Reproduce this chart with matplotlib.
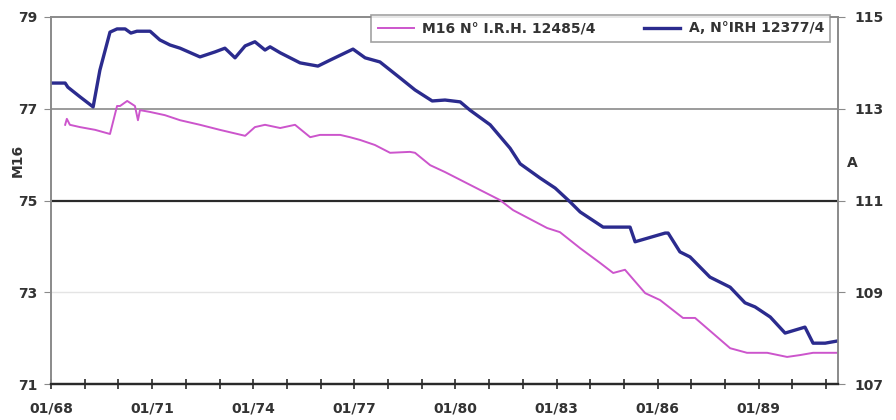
import matplotlib

matplotlib.use("Agg")
import matplotlib.pyplot as plt
from matplotlib.ticker import FixedLocator, MultipleLocator

plt.rcParams["font.family"] = ["DejaVu Sans"]

# --- data (decimal year, level) ---
m16_years = [1968.42, 1968.47, 1968.56, 1968.86, 1969.31, 1969.75, 1969.96, 1970.05,
             1970.26, 1970.49, 1970.58, 1970.64, 1970.94, 1971.38, 1971.83, 1972.42,
             1973.01, 1973.76, 1974.05, 1974.35, 1974.80, 1975.24, 1975.69, 1975.98,
             1976.58, 1976.87, 1977.17, 1977.61, 1978.06, 1978.65, 1978.80, 1979.25,
             1979.69, 1980.73, 1981.32, 1981.71, 1982.72, 1983.10, 1983.70, 1984.29,
             1984.68, 1985.03, 1985.63, 1986.07, 1986.75, 1987.11, 1988.15, 1988.65,
             1989.25, 1989.84, 1990.22, 1990.61, 1991.35]
m16_level = [76.65, 76.78, 76.65, 76.60, 76.54, 76.45, 77.06, 77.06,
             77.17, 77.06, 76.75, 76.97, 76.93, 76.86, 76.75, 76.65,
             76.54, 76.41, 76.60, 76.65, 76.58, 76.65, 76.38, 76.43,
             76.43, 76.38, 76.32, 76.21, 76.04, 76.06, 76.04, 75.77,
             75.62, 75.23, 75.01, 74.79, 74.40, 74.31, 73.96, 73.64,
             73.42, 73.49, 72.98, 72.83, 72.44, 72.44, 71.78, 71.68,
             71.68, 71.59, 71.63, 71.68, 71.68]

a_years = [1968.00, 1968.42, 1968.50, 1968.86, 1969.25, 1969.45, 1969.75, 1969.96,
           1970.20, 1970.37, 1970.55, 1970.94, 1971.23, 1971.53, 1971.83, 1972.42,
           1972.87, 1973.16, 1973.46, 1973.76, 1974.05, 1974.35, 1974.50, 1974.80,
           1975.39, 1975.92, 1976.28, 1976.96, 1977.32, 1977.76, 1978.36, 1978.80,
           1979.31, 1979.69, 1980.14, 1980.43, 1981.03, 1981.62, 1981.92, 1982.51,
           1982.96, 1983.40, 1983.70, 1984.38, 1985.18, 1985.33, 1986.22, 1986.31,
           1986.66, 1986.96, 1987.55, 1988.15, 1988.59, 1988.89, 1989.34, 1989.78,
           1990.37, 1990.61, 1990.97, 1991.35]
a_level = [113.56, 113.56, 113.47, 113.26, 113.04, 113.84, 114.67, 114.74,
           114.74, 114.65, 114.69, 114.69, 114.50, 114.39, 114.32, 114.13,
           114.24, 114.32, 114.11, 114.37, 114.46, 114.28, 114.35, 114.22,
           114.00, 113.93, 114.06, 114.30, 114.11, 114.02, 113.67, 113.41,
           113.17, 113.19, 113.15, 112.97, 112.65, 112.14, 111.80, 111.49,
           111.27, 110.97, 110.75, 110.42, 110.42, 110.10, 110.29, 110.29,
           109.88, 109.77, 109.33, 109.11, 108.77, 108.68, 108.46, 108.11,
           108.24, 107.89, 107.89, 107.94]

x_tick_years = [1968, 1971, 1974, 1977, 1980, 1983, 1986, 1989]
x_tick_labels = ["01/68", "01/71", "01/74", "01/77", "01/80", "01/83", "01/86", "01/89"]
left_ticks = [71, 73, 75, 77, 79]
right_ticks = [107, 109, 111, 113, 115]

TXT = "#333333"
FS = 10

fig = plt.figure(figsize=(8.96, 4.2), dpi=100)
ax1 = fig.add_axes([51 / 896, 36 / 420, 787 / 896, 367 / 420])
ax2 = ax1.twinx()

ax1.set_xlim(1968.0, 1991.35)
ax1.set_ylim(71, 79)
ax2.set_ylim(107, 115)

# horizontal reference lines
ax1.axhline(77, color="#8a8a8a", lw=1.2, zorder=1)
ax1.axhline(75, color="#2a2a2a", lw=1.6, zorder=1)
ax1.axhline(73, color="#e4e4e4", lw=1.0, zorder=1)

l1, = ax1.plot(m16_years, m16_level, color="#cc55cc", lw=1.4, label="M16 N° I.R.H. 12485/4")
l2, = ax2.plot(a_years, a_level, color="#2b2b8e", lw=2.4, label="A, N°IRH 12377/4")

for ax in (ax1, ax2):
    for side in ("left", "right", "top"):
        ax.spines[side].set_color("#8a8a8a")
        ax.spines[side].set_linewidth(1.2)
    ax.spines["bottom"].set_color("#2a2a2a")
    ax.spines["bottom"].set_linewidth(1.6)

ax1.xaxis.set_major_locator(FixedLocator(x_tick_years))
ax1.set_xticklabels(x_tick_labels)
ax1.xaxis.set_minor_locator(MultipleLocator(1))
ax1.tick_params(axis="x", which="both", direction="inout", length=7, width=1.2,
                color="#2a2a2a", labelsize=FS, labelcolor=TXT, pad=9)
ax1.set_yticks(left_ticks)
ax1.tick_params(axis="y", direction="out", length=5, color="#8a8a8a",
                labelsize=FS, labelcolor=TXT, pad=5)
ax2.set_yticks(right_ticks)
ax2.tick_params(axis="y", direction="out", length=5, color="#8a8a8a",
                labelsize=FS, labelcolor=TXT, pad=7)
for lab in ax1.get_xticklabels() + ax1.get_yticklabels() + ax2.get_yticklabels():
    lab.set_fontweight("bold")

fig.text(18 / 896, 1 - 160 / 420, "M16", rotation=90, ha="center", va="center",
         fontsize=FS, fontweight="bold", color=TXT)
fig.text(852 / 896, 1 - 163 / 420, "A", ha="center", va="center",
         fontsize=FS, fontweight="bold", color=TXT)

leg = ax2.legend([l1, l2], [l1.get_label(), l2.get_label()], ncol=2,
                 loc="upper right", bbox_to_anchor=(0.99, 1.005), fontsize=FS,
                 frameon=True, fancybox=False, edgecolor="#8a8a8a",
                 handlelength=2.6, handletextpad=0.6, columnspacing=3.5,
                 borderpad=0.45, borderaxespad=0.0)
leg.get_frame().set_linewidth(1.2)
for t in leg.get_texts():
    t.set_fontweight("bold")
    t.set_color(TXT)

fig.savefig("out.png", dpi=100)
